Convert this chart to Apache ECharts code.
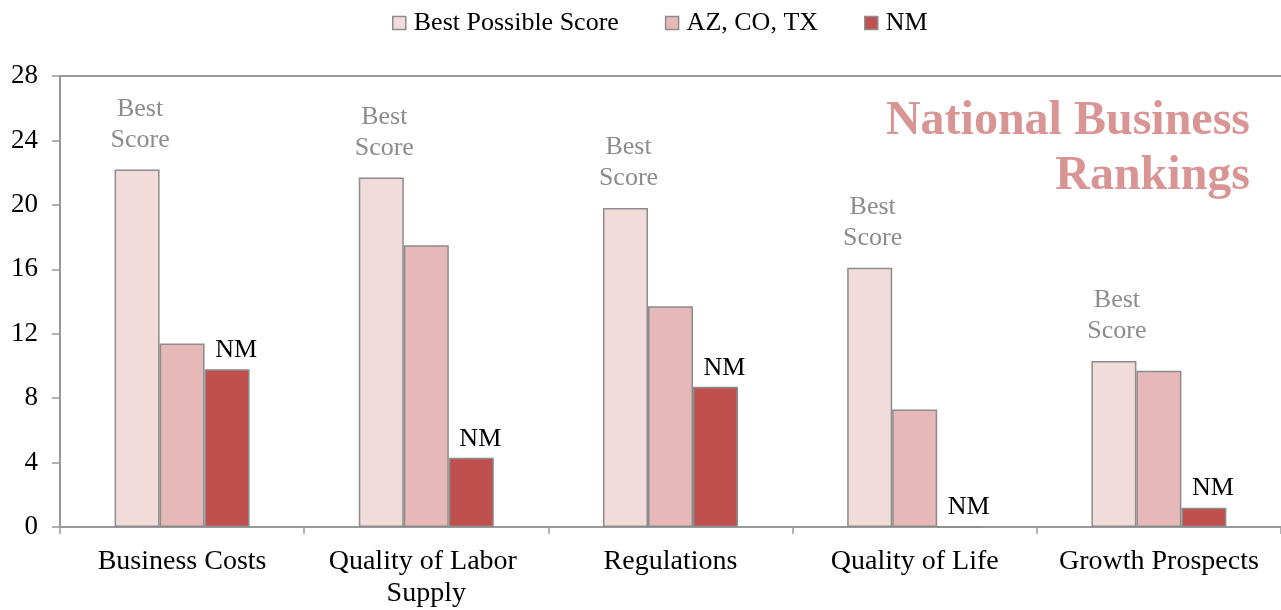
<!DOCTYPE html>
<html><head><meta charset="utf-8">
<script src="https://cdn.jsdelivr.net/npm/echarts@6/dist/echarts.min.js"></script>
<style>html,body{margin:0;padding:0;background:#fff}#c{width:1281px;height:610px}</style>
</head><body><div id="c"></div>
<script>
const categories = ['Business Costs', 'Quality of Labor Supply', 'Regulations', 'Quality of Life', 'Growth Prospects'];
const bestScore = [22.2, 21.7, 19.8, 16.1, 10.3];
const azCoTx = [11.4, 17.5, 13.7, 7.3, 9.7];
const nm = [9.8, 4.3, 8.7, 0, 1.2];
const seriesNames = ['Best Possible Score', 'AZ, CO, TX', 'NM'];
const yTicks = [0, 4, 8, 12, 16, 20, 24, 28];
const titleText = 'National Business\nRankings';

const font = 'Liberation Serif';
const border = '#8c8c8c';
const legendText = { fontFamily: font, fontSize: 26, color: '#000', padding: [0, 0, 0, 3] };
const chart = echarts.init(document.getElementById('c'));
chart.setOption({
  animation: false,
  textStyle: { fontFamily: font },
  graphic: [{
    type: 'text', right: 31, top: 94, z: 10,
    style: { text: titleText, textAlign: 'right', fill: '#d99594',
      font: 'bold 48px "Liberation Serif"', lineHeight: 55 }
  }],
  legend: {
    top: 5, left: 387, itemWidth: 13, itemHeight: 13, itemGap: 46,
    textStyle: legendText,
    data: seriesNames.map(n => ({ name: n, icon: 'rect', textStyle: legendText })),
    itemStyle: { borderColor: border, borderWidth: 1.5 }
  },
  grid: { left: 60, right: -3, top: 76, bottom: 82, containLabel: false },
  xAxis: [{
    type: 'category', data: categories,
    axisLine: { lineStyle: { color: '#999', width: 2 } },
    axisTick: { show: true, length: 7, lineStyle: { color: '#999', width: 1.5 } },
    axisLabel: { fontFamily: font, fontSize: 28, color: '#000', margin: 19, width: 220, overflow: 'break', lineHeight: 32, interval: 0 }
  }, {
    type: 'category', data: categories, position: 'top',
    axisLine: { lineStyle: { color: '#999', width: 2 } },
    axisTick: { show: false }, axisLabel: { show: false }
  }],
  yAxis: {
    type: 'value', min: yTicks[0], max: yTicks[yTicks.length - 1], interval: 4,
    axisLine: { show: true, lineStyle: { color: '#999', width: 2 } },
    axisTick: { show: true, length: 8, lineStyle: { color: '#999', width: 1.5 } },
    splitLine: { show: false },
    axisLabel: { fontFamily: font, fontSize: 27, color: '#000', margin: 22 }
  },
  series: [
    {
      name: seriesNames[0], type: 'bar', data: bestScore, barWidth: 45, barGap: '0%',
      itemStyle: { color: '#f2dcdb', borderColor: border, borderWidth: 1.5 },
      label: { show: true, position: 'top', distance: 14, offset: [3, 0], formatter: 'Best\nScore',
        fontFamily: font, fontSize: 26, color: '#8c8c8c', lineHeight: 31 }
    },
    {
      name: seriesNames[1], type: 'bar', data: azCoTx, barWidth: 45, barGap: '0%',
      itemStyle: { color: '#e6b9b8', borderColor: border, borderWidth: 1.5 }
    },
    {
      name: seriesNames[2], type: 'bar', data: nm, barWidth: 45, barGap: '0%',
      itemStyle: { color: '#c0504d', borderColor: border, borderWidth: 1.5 },
      label: { show: true, position: 'top', distance: 6, offset: [9, 0], formatter: 'NM',
        fontFamily: font, fontSize: 26, color: '#000' }
    }
  ]
});
</script></body></html>
